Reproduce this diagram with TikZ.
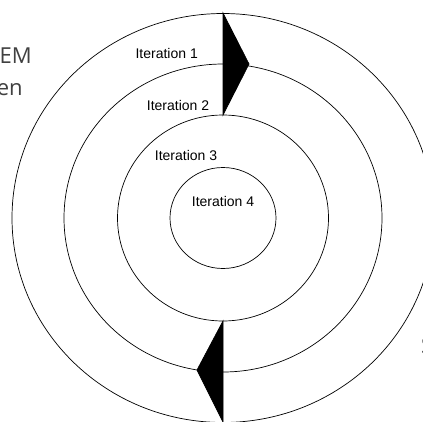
\documentclass[tikz,border=0pt]{standalone}
\usepackage{fontspec}
\setmainfont{Liberation Sans}
\newfontfamily\slidefont{Open Sans}
\usetikzlibrary{positioning}
\definecolor{slidegray}{HTML}{404040}

\begin{document}
\begin{tikzpicture}[x=1pt, y=-1pt, line width=0.7pt,
    iterlabel/.style={inner sep=0pt, anchor=base, font=\fontsize{14}{16}\selectfont},
    slidetext/.style={inner sep=0pt, anchor=base east, text=slidegray, font=\slidefont\fontsize{22}{26}\selectfont},
    ring/.style={draw=black},
    pointer/.style={draw=black, fill=black, line join=miter}]
      \useasboundingbox (0,0) rectangle (423,421);
      \clip (0,0) rectangle (423,421);
      % Define rings
      \coordinate (c) at (223,218);
      \draw[ring] (c) ellipse [x radius=211, y radius=204.5];
      \draw[ring] (c) ellipse [x radius=159, y radius=154];
      \draw[ring] (c) ellipse [x radius=105.5, y radius=103];
      \draw[ring] (c) ellipse [x radius=53, y radius=50.5];
      % Pointers between rings
      \coordinate (t1) at (223,13);
      \coordinate (t2) at (249,64);
      \coordinate (t3) at (223,115);
      \coordinate (b1) at (223,321);
      \coordinate (b2) at (197,370);
      \coordinate (b3) at (223,422);
      \draw[pointer] (t1) -- (t2) -- (t3) -- cycle;
      \draw[pointer] (b1) -- (b2) -- (b3) -- cycle;
      % Labels
      \node[iterlabel] (it1) at (166.7,58.3) {Iteration 1};
      \node[iterlabel] (it2) at (178,110) {Iteration 2};
      \node[iterlabel] (it3) at (186,160.7) {Iteration 3};
      \node[iterlabel] (it4) at (223,206.7) {Iteration 4};
      \node[slidetext] (em) at (32,63) {EM};
      \node[slidetext] (en) at (23,95) {en};
      \node[slidetext, anchor=base west] (s) at (420.8,353) {S};
    \end{tikzpicture}
\end{document}
